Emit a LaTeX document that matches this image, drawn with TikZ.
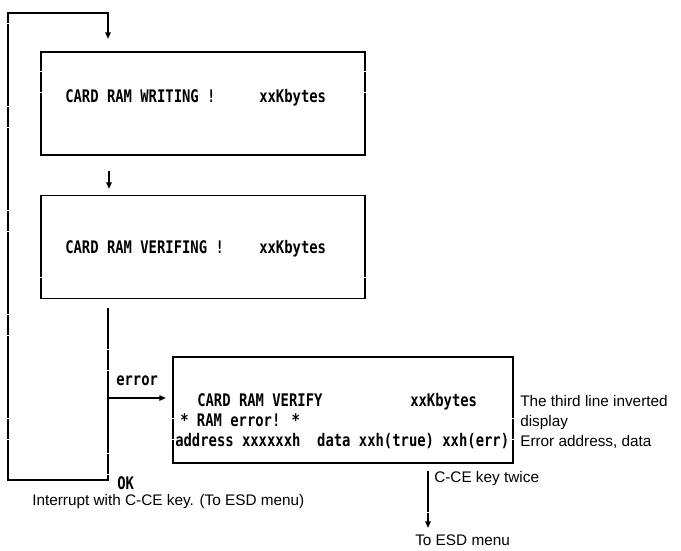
\documentclass[tikz,border=0pt]{standalone}
\usepackage{fontspec}
\setmainfont{Liberation Sans}
% narrow monospaced face for the display screens
\newfontfamily\lcdfont{DejaVu Sans Mono}[FakeStretch=0.80]
\usetikzlibrary{arrows.meta}

\tikzset{
  x=0.75pt, y=-0.75pt,
  flow/.style={line width=1.3pt, line cap=rect, line join=miter},
  vflow/.style={flow, dash pattern=on 14pt off 1.6pt},
  tip/.style={-{Triangle[length=5pt,width=4pt]}},
  panel/.style={minimum width=243pt, minimum height=77pt, inner sep=0pt, draw=none},
  lcd/.style={font=\lcdfont\bfseries\fontsize{13pt}{16pt}\selectfont, anchor=base west, inner sep=0pt},
  note/.style={font=\fontsize{11.5pt}{14pt}\selectfont, anchor=base west, inner sep=0pt},
}

\begin{document}
\begin{tikzpicture}
\useasboundingbox (0,0) rectangle (681,550);

% screen panels
\node[panel] (write) at (203,103.5) {};
\node[panel] (verify) at (203,247) {};
\node[panel, minimum width=255pt, minimum height=78.75pt] (err) at (343,410) {};

\foreach \b in {write,verify,err} {
  \draw[flow] (\b.north west) -- (\b.north east) (\b.south west) -- (\b.south east);
  \draw[vflow] (\b.north west) -- (\b.south west) (\b.north east) -- (\b.south east);
}

% screen contents
\node[lcd] (wtxt) at (65,102) {CARD RAM WRITING !};
\node[lcd] (wkb) at (259,102) {xxKbytes};
\node[lcd] (vtxt) at (65,253) {CARD RAM VERIFING !};
\node[lcd] (vkb) at (259,253) {xxKbytes};
\node[lcd] (etxt1) at (197,406) {CARD RAM VERIFY};
\node[lcd] (ekb) at (410,406) {xxKbytes};
\node[lcd] (etxt2) at (180,426) {* RAM error! *};
\node[lcd] (etxt3) at (175,446) {address xxxxxxh~~data xxh(true) xxh(err)};

% loop and connectors
\coordinate (vstart) at (108,309);
\coordinate (okturn) at (108,480);
\coordinate (loopbl) at (8,480);
\coordinate (looptl) at (8,13);
\coordinate (looptr) at (108,13);
\coordinate (intip) at (108,39);
\coordinate (midtop) at (109,172);
\coordinate (midtip) at (109,189);
\coordinate (errfork) at (108,398);
\coordinate (errtip) at (166,398);
\coordinate (ccetop) at (428,472);
\coordinate (ccetip) at (428,528);

\draw[vflow] (vstart) -- (okturn);
\draw[flow] (okturn) -- (loopbl);
\draw[vflow] (loopbl) -- (looptl);
\draw[flow] (looptl) -- (looptr);
\draw[flow, tip] (looptr) -- (intip);
\draw[flow, tip] (midtop) -- (midtip);
\draw[flow, tip] (errfork) -- (errtip);
\draw[vflow, tip] (ccetop) -- (ccetip);

% labels
\node[lcd] (errlbl) at (116,385) {error};
\node[lcd] (oklbl) at (117,489) {OK};
\node[note] (intr) at (32,505) {Interrupt with C-CE key. (To ESD menu)};
\node[note] (n1) at (520,406) {The third line inverted};
\node[note] (n2) at (520,426) {display};
\node[note] (n3) at (520,446) {Error address, data};
\node[note] (cce) at (434,482) {C-CE key twice};
\node[note] (esd) at (415,545) {To ESD menu};
\end{tikzpicture}
\end{document}
